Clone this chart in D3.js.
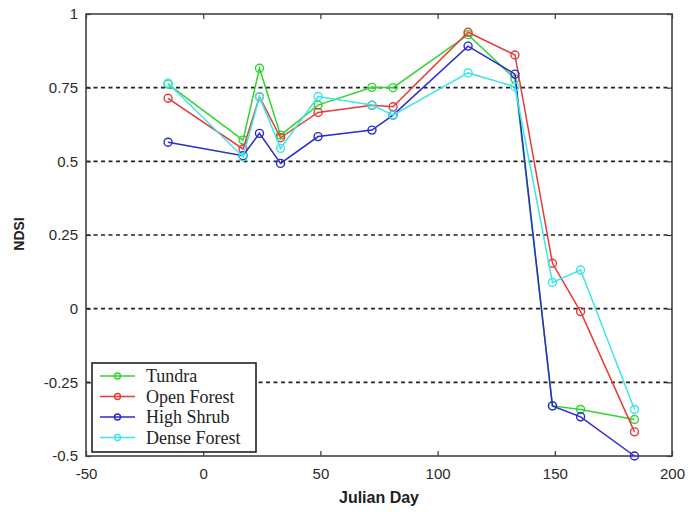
<!DOCTYPE html>
<html>
<head>
<meta charset="utf-8">
<script src="https://cdn.jsdelivr.net/npm/d3@7"></script>
<style>
  body { margin: 0; background: #fff; }
  .tick text { font-family: Arial, "Liberation Sans", sans-serif; font-size: 15px; fill: #2a2a2a; }
</style>
</head>
<body>
<div id="chartDiv"></div>
<script>
// julian days of each acquisition
var days = [-15, 17, 24, 33, 49, 72, 81, 113, 133, 149, 161, 184];

var seriesNames = ["Tundra", "Open Forest", "High Shrub", "Dense Forest"];
var seriesColors = ["#2fd62f", "#e83a3a", "#2a2ad0", "#3ae6ea"];

var tundra      = [0.762, 0.572, 0.816, 0.589, 0.691, 0.751, 0.750, 0.930, 0.780, -0.330, -0.342, -0.376];
var openForest  = [0.714, 0.542, 0.719, 0.580, 0.666, 0.690, 0.685, 0.938, 0.861, 0.154, -0.010, -0.418];
var highShrub   = [0.565, 0.519, 0.595, 0.493, 0.584, 0.606, 0.657, 0.891, 0.796, -0.330, -0.367, -0.500];
var denseForest = [0.765, 0.515, 0.719, 0.544, 0.720, 0.691, 0.657, 0.800, 0.753, 0.089, 0.131, -0.342];

var xTicks = [-50, 0, 50, 100, 150, 200];
var yTicks = [-0.5, -0.25, 0, 0.25, 0.5, 0.75, 1];
var gridValues = [-0.25, 0, 0.25, 0.5, 0.75];

var width = 688, height = 512;
var margin = { top: 14, right: 16, bottom: 56, left: 86 };
var chartWidth = width - margin.left - margin.right;
var chartHeight = height - margin.top - margin.bottom;

var allSeries = [tundra, openForest, highShrub, denseForest];

var svg = d3.select("#chartDiv").append("svg")
  .attr("width", width)
  .attr("height", height);

var plot = svg.append("g")
  .attr("transform", "translate(" + margin.left + "," + margin.top + ")");

var xScale = d3.scaleLinear().domain([-50, 200]).range([0, chartWidth]);
var yScale = d3.scaleLinear().domain([-0.5, 1]).range([chartHeight, 0]);

// dashed horizontal grid
plot.selectAll(".grid")
  .data(gridValues)
  .enter().append("line")
    .attr("class", "grid")
    .attr("x1", 0).attr("x2", chartWidth)
    .attr("y1", function(d) { return yScale(d); })
    .attr("y2", function(d) { return yScale(d); })
    .attr("stroke", "#222")
    .attr("stroke-width", 1.6)
    .attr("stroke-dasharray", "4,3.5");

// axes, ticks pointing inward like matlab
function styleAxis(g) {
  g.select(".domain").remove();
  g.selectAll(".tick line").attr("stroke", "#333").attr("stroke-width", 1.2);
}

plot.append("g")
  .attr("transform", "translate(0," + chartHeight + ")")
  .call(d3.axisBottom(xScale).tickValues(xTicks).tickSize(-5).tickPadding(12).tickFormat(function(d) { return String(d); }))
  .call(styleAxis);

plot.append("g")
  .call(d3.axisTop(xScale).tickValues(xTicks).tickSize(-5).tickFormat(""))
  .call(styleAxis);

plot.append("g")
  .call(d3.axisLeft(yScale).tickValues(yTicks).tickSize(-5).tickPadding(8).tickFormat(function(d) { return String(d); }))
  .call(styleAxis);

plot.append("g")
  .attr("transform", "translate(" + chartWidth + ",0)")
  .call(d3.axisRight(yScale).tickValues(yTicks).tickSize(-5).tickFormat(""))
  .call(styleAxis);

plot.append("rect")
  .attr("width", chartWidth)
  .attr("height", chartHeight)
  .attr("fill", "none")
  .attr("stroke", "#444")
  .attr("stroke-width", 1.6);

// lines
var line = d3.line()
  .x(function(d, i) { return xScale(days[i]); })
  .y(function(d) { return yScale(d); });

allSeries.forEach(function(values, s) {
  plot.append("path")
    .datum(values)
    .attr("d", line)
    .attr("fill", "none")
    .attr("stroke", seriesColors[s])
    .attr("stroke-width", 1.5);

  plot.selectAll(".dot" + s)
    .data(values)
    .enter().append("circle")
      .attr("class", "dot" + s)
      .attr("cx", function(d, i) { return xScale(days[i]); })
      .attr("cy", function(d) { return yScale(d); })
      .attr("r", 4)
      .attr("fill", "none")
      .attr("stroke", seriesColors[s])
      .attr("stroke-width", 1.4);
});

// axis titles
svg.append("text")
  .attr("x", margin.left + chartWidth / 2)
  .attr("y", 503)
  .attr("text-anchor", "middle")
  .style("font-family", "Arial, 'Liberation Sans', sans-serif")
  .style("font-size", "16px")
  .style("font-weight", "bold")
  .attr("fill", "#222")
  .text("Julian Day");

svg.append("text")
  .attr("transform", "translate(24,234) rotate(-90)")
  .attr("text-anchor", "middle")
  .style("font-family", "Arial, 'Liberation Sans', sans-serif")
  .style("font-size", "14px")
  .style("font-weight", "bold")
  .attr("fill", "#222")
  .text("NDSI");

// legend
var legend = svg.append("g").attr("transform", "translate(92,363)");
legend.append("rect")
  .attr("width", 164).attr("height", 89)
  .attr("fill", "#fff")
  .attr("stroke", "#222")
  .attr("stroke-width", 1.6);

seriesNames.forEach(function(name, i) {
  var y = 13 + i * 20.5;
  legend.append("line")
    .attr("x1", 8).attr("x2", 43)
    .attr("y1", y).attr("y2", y)
    .attr("stroke", seriesColors[i])
    .attr("stroke-width", 1.5);
  legend.append("circle")
    .attr("cx", 25.5).attr("cy", y).attr("r", 3)
    .attr("fill", "none")
    .attr("stroke", seriesColors[i])
    .attr("stroke-width", 1.4);
  legend.append("text")
    .attr("x", 54).attr("y", y + 6)
    .style("font-family", "'Liberation Serif', 'DejaVu Serif', serif")
    .style("font-size", "18px")
    .attr("fill", "#222")
    .text(name);
});
</script>
</body>
</html>
